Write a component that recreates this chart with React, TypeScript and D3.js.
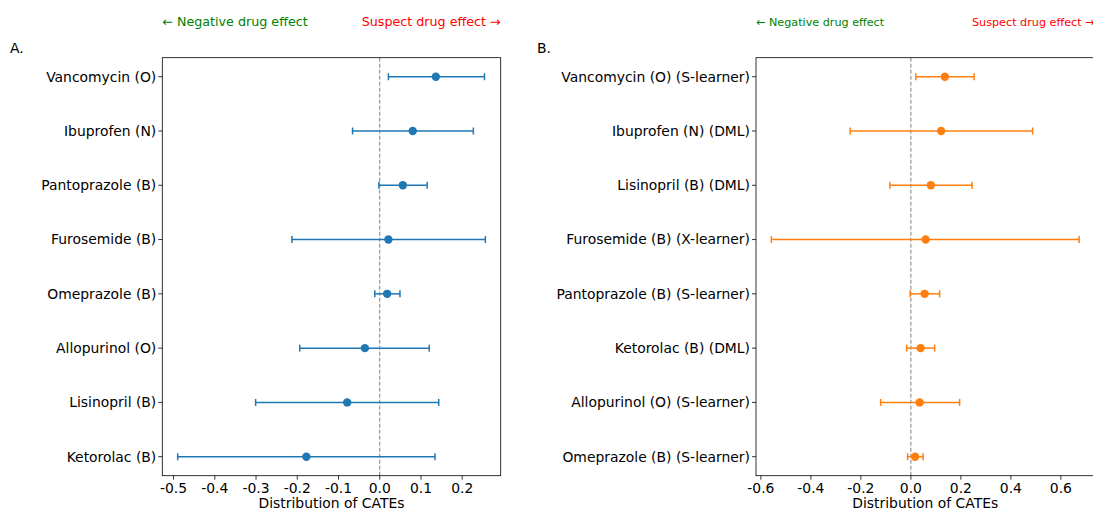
import React from "react";
import * as d3 from "d3";

// rows listed top to bottom
const drugsA = [
  "Vancomycin (O)",
  "Ibuprofen (N)",
  "Pantoprazole (B)",
  "Furosemide (B)",
  "Omeprazole (B)",
  "Allopurinol (O)",
  "Lisinopril (B)",
  "Ketorolac (B)",
];
const meanA = [0.136, 0.08, 0.056, 0.021, 0.018, -0.036, -0.079, -0.178];
const lowA = [0.021, -0.066, -0.002, -0.213, -0.012, -0.194, -0.301, -0.49];
const highA = [0.254, 0.227, 0.115, 0.256, 0.049, 0.12, 0.143, 0.134];
const ticksA = [-0.5, -0.4, -0.3, -0.2, -0.1, 0.0, 0.1, 0.2];

const drugsB = [
  "Vancomycin (O) (S-learner)",
  "Ibuprofen (N) (DML)",
  "Lisinopril (B) (DML)",
  "Furosemide (B) (X-learner)",
  "Pantoprazole (B) (S-learner)",
  "Ketorolac (B) (DML)",
  "Allopurinol (O) (S-learner)",
  "Omeprazole (B) (S-learner)",
];
const meanB = [0.136, 0.121, 0.08, 0.059, 0.055, 0.039, 0.035, 0.017];
const lowB = [0.02, -0.243, -0.084, -0.558, -0.003, -0.017, -0.121, -0.013];
const highB = [0.253, 0.487, 0.245, 0.673, 0.115, 0.095, 0.195, 0.049];
const ticksB = [-0.6, -0.4, -0.2, 0.0, 0.2, 0.4, 0.6];

const FONT = "DejaVu Sans, sans-serif";
const FS = 13.9;

type PanelProps = {
  left: number;
  right: number;
  top: number;
  bottom: number;
  labels: string[];
  mean: number[];
  low: number[];
  high: number[];
  ticks: number[];
  color: string;
  letter: string;
  letterX: number;
  noteSize: number;
};

const Panel = (p: PanelProps) => {
  const lo = d3.min(p.low)!;
  const hi = d3.max(p.high)!;
  const pad = (hi - lo) * 0.05;
  const x = d3.scaleLinear().domain([lo - pad, hi + pad]).range([p.left, p.right]);
  const n = p.labels.length;
  const y = d3
    .scaleLinear()
    .domain([-0.35, n - 1 + 0.35])
    .range([p.top, p.bottom]);
  const fmt = (t: number) => d3.format(".1f")(t).replace("\u2212", "-");

  return (
    <g fontFamily={FONT}>
      <text x={p.letterX} y={53} fontSize={FS} fill="#000">
        {p.letter}
      </text>
      <text x={p.left} y={26} fontSize={p.noteSize} fill="green">
        ← Negative drug effect
      </text>
      <text x={p.right} y={26} fontSize={p.noteSize} fill="red" textAnchor="end">
        Suspect drug effect →
      </text>
      <line
        x1={x(0)}
        x2={x(0)}
        y1={p.top}
        y2={p.bottom}
        stroke="#808080"
        strokeWidth={1}
        strokeDasharray="4,2"
      />
      {p.labels.map((d, i) => (
        <g key={d}>
          <line
            x1={x(p.low[i])}
            x2={x(p.high[i])}
            y1={y(i)}
            y2={y(i)}
            stroke={p.color}
            strokeWidth={1.5}
          />
          <line x1={x(p.low[i])} x2={x(p.low[i])} y1={y(i) - 3.5} y2={y(i) + 3.5} stroke={p.color} strokeWidth={1.5} />
          <line x1={x(p.high[i])} x2={x(p.high[i])} y1={y(i) - 3.5} y2={y(i) + 3.5} stroke={p.color} strokeWidth={1.5} />
          <circle cx={x(p.mean[i])} cy={y(i)} r={4.2} fill={p.color} />
          <line x1={p.left - 4} x2={p.left} y1={y(i)} y2={y(i)} stroke="#000" strokeWidth={0.8} />
          <text x={p.left - 6} y={y(i)} dy="0.35em" textAnchor="end" fontSize={FS}>
            {d}
          </text>
        </g>
      ))}
      {p.ticks.map((t) => (
        <g key={t}>
          <line x1={x(t)} x2={x(t)} y1={p.bottom} y2={p.bottom + 4} stroke="#000" strokeWidth={0.8} />
          <text x={x(t)} y={p.bottom + 17.5} textAnchor="middle" fontSize={FS}>
            {fmt(t)}
          </text>
        </g>
      ))}
      <rect
        x={p.left}
        y={p.top}
        width={p.right - p.left}
        height={p.bottom - p.top}
        fill="none"
        stroke="#000"
        strokeWidth={0.8}
      />
      <text x={(p.left + p.right) / 2} y={p.bottom + 32} textAnchor="middle" fontSize={FS}>
        Distribution of CATEs
      </text>
    </g>
  );
};

export default function App() {
  return (
    <div style={{ position: "absolute", left: 0, top: 0 }}>
      <svg width={1093} height={508} style={{ display: "block", background: "#fff" }}>
        <Panel
          left={162.3}
          right={500.7}
          top={57.7}
          bottom={475.7}
          labels={drugsA}
          mean={meanA}
          low={lowA}
          high={highA}
          ticks={ticksA}
          color="#1f77b4"
          letter="A."
          letterX={10}
          noteSize={12.7}
        />
        <Panel
          left={756}
          right={1094.5}
          top={57.7}
          bottom={475.7}
          labels={drugsB}
          mean={meanB}
          low={lowB}
          high={highB}
          ticks={ticksB}
          color="#ff7f0e"
          letter="B."
          letterX={537}
          noteSize={11.2}
        />
      </svg>
    </div>
  );
}
